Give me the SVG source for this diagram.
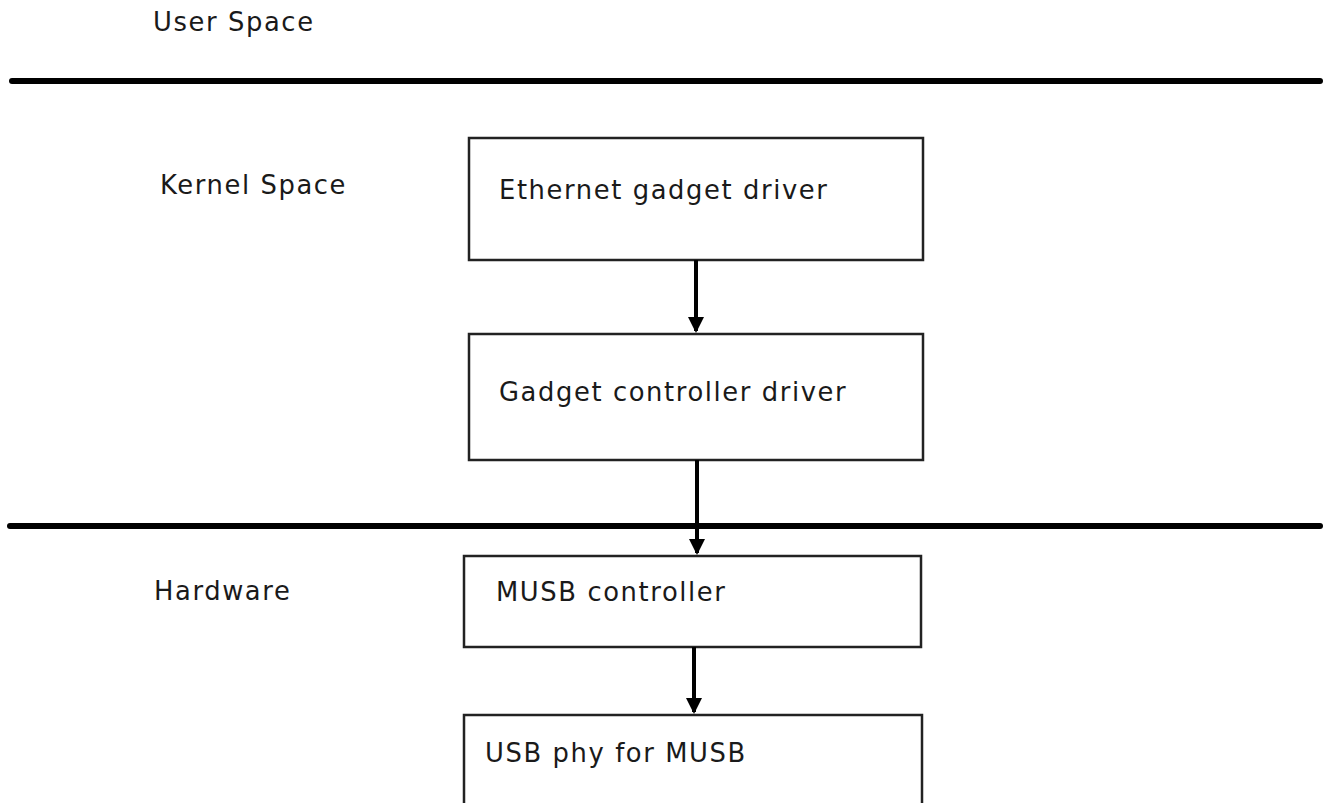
<svg xmlns="http://www.w3.org/2000/svg" width="1328" height="803" viewBox="0 0 1328 803">
<style>
text{font-family:"DejaVu Sans","Liberation Sans",sans-serif;font-size:25.8px;fill:#1a1a1a;letter-spacing:1.6px}
.box{fill:#fff;stroke:#222;stroke-width:2.5}
.sep{stroke:#000;stroke-width:6;stroke-linecap:round}
.conn{stroke:#000;stroke-width:4;fill:none;marker-end:url(#ah)}
</style>
<defs>
<marker id="ah" markerWidth="4" markerHeight="4" refX="3.5" refY="2" orient="auto" markerUnits="strokeWidth">
<path d="M0,0 L4,2 L0,4 Z" fill="#000"/>
</marker>
</defs>
<rect width="1328" height="803" fill="#fff"/>
<g id="layers">
<line class="sep" x1="12" y1="81" x2="1320" y2="81"/>
<line class="sep" x1="10" y1="526" x2="1320" y2="526"/>
<text x="153" y="31">User Space</text>
<text x="160" y="194">Kernel Space</text>
<text x="154" y="600">Hardware</text>
</g>
<g id="n1"><rect class="box" x="469" y="138" width="454" height="122"/><text x="499" y="199">Ethernet gadget driver</text></g>
<g id="n2"><rect class="box" x="469" y="334" width="454" height="126"/><text x="499" y="401">Gadget controller driver</text></g>
<g id="n3"><rect class="box" x="464" y="556" width="457" height="91"/><text x="496" y="601">MUSB controller</text></g>
<g id="n4"><rect class="box" x="464" y="715" width="458" height="95"/><text x="485" y="762">USB phy for MUSB</text></g>
<g id="connectors">
<line class="conn" x1="696" y1="260" x2="696" y2="331"/>
<line class="conn" x1="697" y1="460" x2="697" y2="553"/>
<line class="conn" x1="694" y1="647" x2="694" y2="712"/>
</g>
</svg>
